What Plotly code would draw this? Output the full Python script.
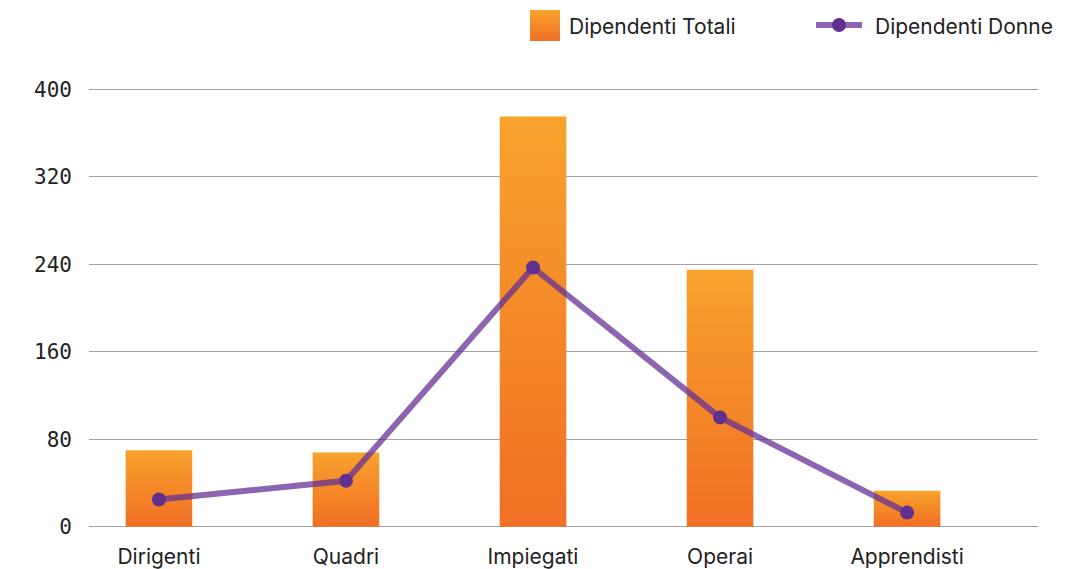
import base64
import plotly.graph_objects as go

# Data
categorie = ["Dirigenti", "Quadri", "Impiegati", "Operai", "Apprendisti"]
dipendenti_totali = [70, 68, 375, 235, 33]
dipendenti_donne = [25, 42, 237, 100, 13]
y_ticks = [0, 80, 160, 240, 320, 400]

ORANGE_TOP = "#F8A22C"
ORANGE_BOTTOM = "#F06F25"
LINE_COLOR = "rgba(102,48,150,0.75)"
DOT_COLOR = "#61308F"
TEXT_COLOR = "#222222"
BAR_HALF = 0.178

fig = go.Figure()

# Bars drawn as filled polygons so each one can carry its own vertical gradient
for i, v in enumerate(dipendenti_totali):
    fig.add_trace(go.Scatter(
        x=[i - BAR_HALF, i + BAR_HALF, i + BAR_HALF, i - BAR_HALF, i - BAR_HALF],
        y=[0, 0, v, v, 0],
        mode="lines",
        line=dict(width=0),
        fill="toself",
        fillgradient=dict(
            type="vertical",
            colorscale=[[0, ORANGE_BOTTOM], [1, ORANGE_TOP]],
            start=0,
            stop=v,
        ),
        name="Dipendenti Totali",
        hoverinfo="skip",
        showlegend=False,
    ))

fig.add_trace(go.Scatter(
    x=list(range(len(categorie))),
    y=dipendenti_donne,
    mode="lines+markers",
    line=dict(color=LINE_COLOR, width=6),
    marker=dict(color=DOT_COLOR, size=14),
    name="Dipendenti Donne",
    showlegend=False,
))

# Legend built by hand (larger swatches)
svg = (
    '<svg xmlns="http://www.w3.org/2000/svg" width="30" height="31">'
    '<defs><linearGradient id="g" x1="0" y1="0" x2="0" y2="1">'
    f'<stop offset="0" stop-color="{ORANGE_TOP}"/>'
    f'<stop offset="1" stop-color="{ORANGE_BOTTOM}"/>'
    '</linearGradient></defs>'
    '<rect width="30" height="31" fill="url(#g)"/></svg>'
)
src = "data:image/svg+xml;base64," + base64.b64encode(svg.encode()).decode()

W, H = 1071, 569
L, R, T, B = 89, 33, 87, 40
pw, ph = W - L - R, H - T - B


def px(x):
    return (x - L) / pw


def py(y):
    return (H - B - y) / ph


fig.add_layout_image(dict(
    source=src, xref="paper", yref="paper",
    x=px(530), y=py(10), sizex=30 / pw, sizey=31 / ph,
    xanchor="left", yanchor="top", sizing="stretch", layer="above",
))
fig.add_shape(type="line", xref="paper", yref="paper",
              x0=px(816), x1=px(862), y0=py(25), y1=py(25),
              line=dict(color=LINE_COLOR, width=6))
fig.add_shape(type="circle", xref="paper", yref="paper",
              x0=px(832), x1=px(846), y0=py(32), y1=py(18),
              fillcolor=DOT_COLOR, line=dict(width=0))
fig.add_annotation(xref="paper", yref="paper", x=px(567), y=py(26),
                   text="Dipendenti Totali", showarrow=False,
                   xanchor="left", yanchor="middle",
                   font=dict(family="Inter", size=21, color=TEXT_COLOR))
fig.add_annotation(xref="paper", yref="paper", x=px(873), y=py(26),
                   text="Dipendenti Donne", showarrow=False,
                   xanchor="left", yanchor="middle",
                   font=dict(family="Inter", size=21, color=TEXT_COLOR))

fig.update_layout(
    width=W, height=H,
    margin=dict(l=L, r=R, t=T, b=B, autoexpand=False),
    paper_bgcolor="white",
    plot_bgcolor="white",
    showlegend=False,
    xaxis=dict(
        range=[-0.374, 4.70],
        tickvals=list(range(len(categorie))),
        ticktext=categorie,
        showgrid=False,
        zeroline=False,
        showline=False,
        ticks="",
        automargin=False,
        tickfont=dict(family="Inter", size=21, color=TEXT_COLOR),
        ticklabelstandoff=13,
    ),
    yaxis=dict(
        range=[-2, 402],
        tickvals=y_ticks,
        showgrid=True,
        gridcolor="#A3A3A3",
        gridwidth=1,
        zeroline=False,
        showline=False,
        ticks="",
        automargin=False,
        tickfont=dict(family="DejaVu Sans Mono", size=21, color=TEXT_COLOR),
        ticklabelstandoff=16,
    ),
)

fig.write_html("out.html")
